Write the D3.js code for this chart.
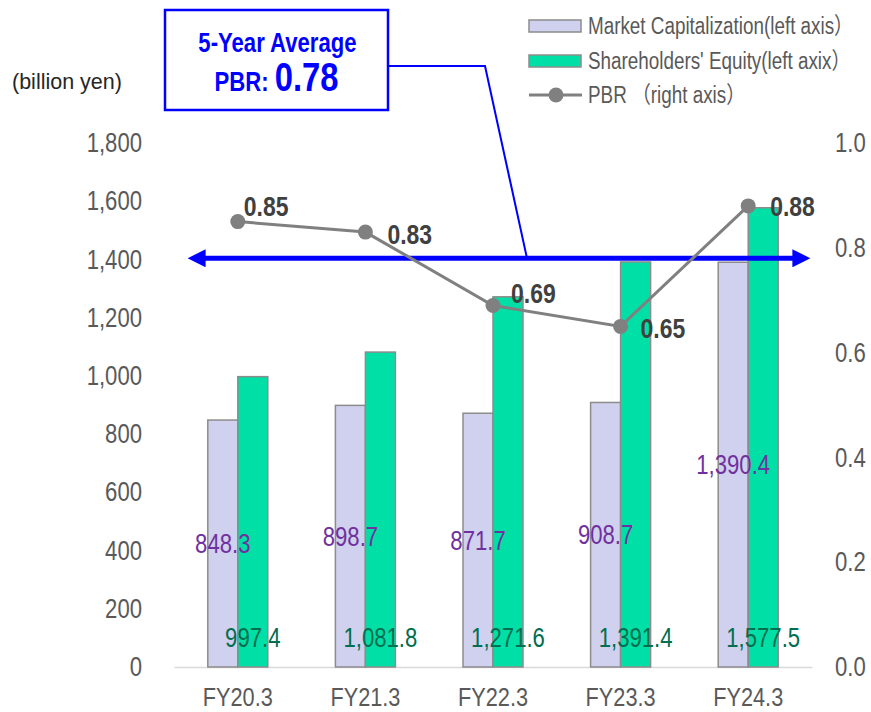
<!DOCTYPE html>
<html>
<head>
<meta charset="utf-8">
<script src="https://cdn.jsdelivr.net/npm/d3@7"></script>
<style>
  html, body { margin: 0; padding: 0; background: #fff; }
  svg { display: block; }
</style>
</head>
<body>
<svg id="chart" width="871" height="712"></svg>
<script>
// Fiscal years shown along the bottom
const categories = ["FY20.3", "FY21.3", "FY22.3", "FY23.3", "FY24.3"];
// Market capitalization, billion yen (left axis)
const marketCap = [848.3, 898.7, 871.7, 908.7, 1390.4];
// Shareholders' equity, billion yen (left axis)
const equity = [997.4, 1081.8, 1271.6, 1391.4, 1577.5];
// Price-to-book ratio (right axis)
const pbr = [0.85, 0.83, 0.69, 0.65, 0.88];
// Axis ticks
const leftTicks = [0, 200, 400, 600, 800, 1000, 1200, 1400, 1600, 1800];
const rightTicks = [0.0, 0.2, 0.4, 0.6, 0.8, 1.0];
const seriesNames = ["Market Capitalization(left axis）", "Shareholders' Equity(left axix）", "PBR （right axis）"];

const avgPbr = d3.mean(pbr);

const svg = d3.select("#chart");
const FONT = '"Liberation Sans", Arial, "Noto Sans CJK JP", sans-serif';
const K = 0.82; // horizontal squeeze for the narrow lettering

// Squeeze text horizontally, keeping its anchor point in place
function condense(sel) {
  sel.each(function () {
    const t = d3.select(this);
    const x = +t.attr("x") || 0;
    t.attr("x", x / K).attr("transform", `scale(${K},1)`);
  });
  return sel;
}

const plot = { left: 174, right: 812, top: 143, bottom: 667 };

const x = d3.scaleBand().domain(categories).range([plot.left, plot.right]).padding(0);
const yL = d3.scaleLinear().domain([0, 1800]).range([plot.bottom, plot.top]);
const yR = d3.scaleLinear().domain([0, 1.0]).range([plot.bottom, plot.top]);
const sub = d3.scaleBand().domain(["mc", "eq"]).range([-30, 30]).padding(0);
const cx = c => x(c) + x.bandwidth() / 2;

// Left axis
const axL = svg.append("g").attr("transform", `translate(${plot.left},0)`)
  .call(d3.axisLeft(yL).tickValues(leftTicks).tickSize(0).tickPadding(32).tickFormat(d3.format(",")));
axL.select(".domain").remove();
condense(axL.selectAll("text").attr("font-family", FONT).attr("font-size", 27).attr("fill", "#595959"));

// Right axis
const axR = svg.append("g").attr("transform", `translate(${plot.right},0)`)
  .call(d3.axisRight(yR).tickValues(rightTicks).tickSize(0).tickPadding(23).tickFormat(d3.format(".1f")));
axR.select(".domain").remove();
condense(axR.selectAll("text").attr("font-family", FONT).attr("font-size", 27).attr("fill", "#595959"));

// Category axis
const axB = svg.append("g").attr("transform", `translate(0,${plot.bottom})`)
  .call(d3.axisBottom(x).tickSize(0).tickPadding(20));
axB.select(".domain").attr("stroke", "#d9d9d9").attr("stroke-width", 1.5);
condense(axB.selectAll("text").attr("font-family", FONT).attr("font-size", 26.5).attr("fill", "#595959"));

// Unit label
svg.append("text").attr("x", 12).attr("y", 89).attr("font-family", FONT)
  .attr("font-size", 21.5).attr("fill", "#262626").text("(billion yen)");

// Bars
const groups = svg.append("g").selectAll("g").data(categories).join("g")
  .attr("transform", c => `translate(${cx(c)},0)`);

groups.append("rect")
  .attr("x", sub("mc")).attr("width", sub.bandwidth())
  .attr("y", (c, i) => yL(marketCap[i])).attr("height", (c, i) => yL(0) - yL(marketCap[i]))
  .attr("fill", "#d0d1ee").attr("stroke", "#8c8c8c").attr("stroke-width", 1.5);

groups.append("rect")
  .attr("x", sub("eq")).attr("width", sub.bandwidth())
  .attr("y", (c, i) => yL(equity[i])).attr("height", (c, i) => yL(0) - yL(equity[i]))
  .attr("fill", "#00e0a6").attr("stroke", "#8c8c8c").attr("stroke-width", 1.5);

// Market cap labels, centred inside the bar
condense(groups.append("text")
  .attr("x", sub("mc") + sub.bandwidth() / 2)
  .attr("y", (c, i) => yL(marketCap[i] / 2))
  .attr("dy", "0.35em").attr("text-anchor", "middle")
  .attr("font-family", FONT).attr("font-size", 27).attr("fill", "#7030a0")
  .text((c, i) => d3.format(",.1f")(marketCap[i])));

// Equity labels, at the inside base of the bar
condense(groups.append("text")
  .attr("x", sub("eq") + sub.bandwidth() / 2)
  .attr("y", yL(0) - 29)
  .attr("dy", "0.35em").attr("text-anchor", "middle")
  .attr("font-family", FONT).attr("font-size", 27).attr("fill", "#006e50")
  .text((c, i) => d3.format(",.1f")(equity[i])));

// 5-year average arrow
const avgY = yR(avgPbr);
const defs = svg.append("defs");
defs.append("marker").attr("id", "ah").attr("viewBox", "0 0 10 10")
  .attr("refX", 2).attr("refY", 5).attr("markerWidth", 4).attr("markerHeight", 3.6)
  .attr("orient", "auto-start-reverse").attr("markerUnits", "strokeWidth")
  .append("path").attr("d", "M0,0 L10,5 L0,10 Z").attr("fill", "#0000ff");
svg.append("line")
  .attr("x1", plot.left + 28).attr("x2", plot.right - 16)
  .attr("y1", avgY).attr("y2", avgY)
  .attr("stroke", "#0000ff").attr("stroke-width", 5)
  .attr("marker-start", "url(#ah)").attr("marker-end", "url(#ah)");

// PBR line
const line = d3.line().x((d, i) => cx(categories[i])).y(d => yR(d));
svg.append("path").datum(pbr).attr("d", line)
  .attr("fill", "none").attr("stroke", "#808080").attr("stroke-width", 3);
svg.append("g").selectAll("circle").data(pbr).join("circle")
  .attr("cx", (d, i) => cx(categories[i])).attr("cy", d => yR(d)).attr("r", 7.5)
  .attr("fill", "#808080");

// PBR labels
const pbrOffsets = [[6, -15], [22, 2], [18, -12], [20, 2], [22, 0]];
condense(svg.append("g").selectAll("text").data(pbr).join("text")
  .attr("x", (d, i) => cx(categories[i]) + pbrOffsets[i][0])
  .attr("y", (d, i) => yR(d) + pbrOffsets[i][1])
  .attr("dy", "0.35em")
  .attr("font-family", FONT).attr("font-size", 28).attr("font-weight", "bold")
  .attr("fill", "#404040")
  .text(d => d3.format(".2f")(d)));

// Callout box with connector to the average arrow
const box = { x: 165, y: 10, w: 223, h: 100 };
svg.append("path")
  .attr("d", `M${box.x + box.w},66 L485,66 L527,${avgY}`)
  .attr("fill", "none").attr("stroke", "#0000ff").attr("stroke-width", 2);
svg.append("rect").attr("x", box.x).attr("y", box.y).attr("width", box.w).attr("height", box.h)
  .attr("fill", "#fff").attr("stroke", "#0000ff").attr("stroke-width", 2.5);
condense(svg.append("text").attr("x", box.x + box.w / 2 + 1).attr("y", 52).attr("text-anchor", "middle")
  .attr("font-family", FONT).attr("font-size", 27).attr("font-weight", "bold").attr("fill", "#0000ff")
  .text("5-Year Average"));
const t2 = svg.append("text").attr("x", box.x + box.w / 2).attr("y", 91).attr("text-anchor", "middle")
  .attr("font-family", FONT).attr("font-weight", "bold").attr("fill", "#0000ff");
t2.append("tspan").attr("font-size", 27).text("PBR: ");
t2.append("tspan").attr("font-size", 40).text(d3.format(".2f")(avgPbr));
condense(t2);

// Legend
const lg = svg.append("g").attr("transform", "translate(529,0)");
const rows = [26, 61, 95];
lg.append("rect").attr("x", 0).attr("y", rows[0] - 6).attr("width", 52).attr("height", 12)
  .attr("fill", "#d0d1ee").attr("stroke", "#8c8c8c").attr("stroke-width", 1.5);
lg.append("rect").attr("x", 0).attr("y", rows[1] - 6).attr("width", 52).attr("height", 12)
  .attr("fill", "#00e0a6").attr("stroke", "#8c8c8c").attr("stroke-width", 1.5);
lg.append("line").attr("x1", 0).attr("x2", 53).attr("y1", rows[2]).attr("y2", rows[2])
  .attr("stroke", "#808080").attr("stroke-width", 3);
lg.append("circle").attr("cx", 27).attr("cy", rows[2]).attr("r", 7.5).attr("fill", "#808080");
condense(lg.selectAll("text.lt").data(seriesNames).join("text").attr("class", "lt")
  .attr("x", 59).attr("y", (d, i) => rows[i]).attr("dy", "0.35em")
  .attr("font-family", FONT).attr("font-size", 23).attr("fill", "#595959")
  .text(d => d));
</script>
</body>
</html>
